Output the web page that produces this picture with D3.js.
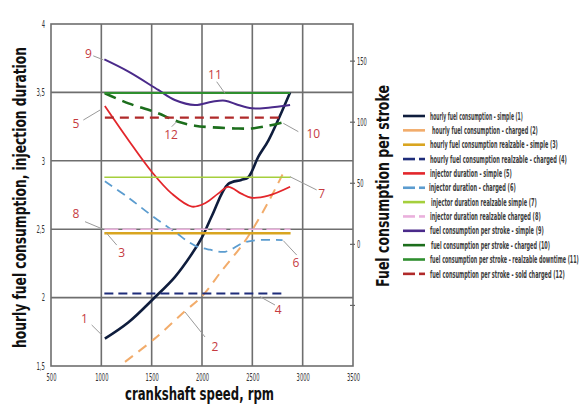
<!DOCTYPE html>
<html><head><meta charset="utf-8">
<script src="https://cdn.jsdelivr.net/npm/d3@7"></script>
<style>body{margin:0;background:#fff}svg{display:block}</style>
</head><body>
<svg id="c" width="582" height="405"></svg>
<script>
// ---- data ----
const xTicks = [500, 1000, 1500, 2000, 2500, 3000, 3500];
const yLeftTicks = [1.5, 2, 2.5, 3, 3.5, 4];
const yRightTicks = [-50, 0, 50, 100, 150];
const yRightTickLabels = ["", "0", "50", "100", "150"];

const rpm1 = [1035, 1270, 1515, 1730, 1900, 2000, 2100, 2260, 2390, 2460, 2560, 2660, 2875];
const hourlySimple = [1.70, 1.82, 1.99, 2.15, 2.32, 2.44, 2.60, 2.83, 2.86, 2.88, 3.03, 3.15, 3.50];
const rpm2 = [1235, 1530, 1830, 2000, 2200, 2395, 2495, 2660, 2800];
const hourlyCharged = [1.53, 1.70, 1.90, 2.01, 2.20, 2.38, 2.49, 2.70, 2.90];
const rpm3 = [1030, 2880];
const hourlyRealSimple = [2.47, 2.47];
const rpm4 = [1030, 2810];
const hourlyRealCharged = [2.03, 2.03];
const rpm5 = [1035, 1270, 1500, 1700, 1900, 2030, 2160, 2260, 2390, 2490, 2660, 2875];
const injSimple = [3.40, 3.15, 2.92, 2.76, 2.665, 2.69, 2.76, 2.81, 2.76, 2.73, 2.745, 2.81];
const rpm6 = [1035, 1270, 1500, 1730, 1930, 2080, 2230, 2410, 2550, 2800];
const injCharged = [2.85, 2.73, 2.60, 2.48, 2.38, 2.35, 2.335, 2.40, 2.42, 2.42];
const rpm7 = [1030, 2880];
const injRealSimple = [2.88, 2.88];
const rpm8 = [1030, 2880];
const injRealCharged = [2.50, 2.50];
const rpm9 = [1030, 1270, 1566, 1730, 1930, 2100, 2230, 2360, 2495, 2660, 2875];
const strokeSimple = [151, 141, 126, 117.8, 113.7, 116.4, 117.2, 113.7, 111, 111.5, 113.7];
const rpm10 = [1035, 1270, 1530, 1765, 1930, 2100, 2330, 2495, 2660, 2790];
const strokeCharged = [123.3, 115, 108, 100, 96.7, 95.4, 94.5, 94.5, 96.7, 99.2];
const rpm11 = [1030, 2875];
const strokeRealDowntime = [123.5, 123.5];
const rpm12 = [1035, 2775];
const strokeSoldCharged = [103.3, 103.3];

const legendNames = [
  "hourly fuel consumption - simple (1)",
  "hourly fuel consumption - charged (2)",
  "hourly fuel consumption realzable - simple (3)",
  "hourly fuel consumption realzable - charged (4)",
  "injector duration - simple (5)",
  "injector duration - charged (6)",
  "injector duration realzable simple (7)",
  "injector duration realzable charged (8)",
  "fuel consumption per stroke - simple (9)",
  "fuel consumption per stroke - charged (10)",
  "fuel consumption per stroke - realzable downtime (11)",
  "fuel consumption per stroke - sold charged (12)"
];

// numbered callouts (left-axis units)
const calloutText = ["1","2","3","4","5","6","7","8","9","10","11","12"];
const calloutPos = [[831,1.849],[2129,1.641],[1202,2.328],[2758,1.909],[748,3.274],[2934,2.255],[3189,2.762],[748,2.611],[871,3.786],[3106,3.196],[2129,3.632],[1692,3.194]];
const leaderFrom = [[904,1.80],[1831,1.895],[1053,2.47],[2576,2.007],[821,3.298],[2808,2.416],[2874,2.884],[838,2.555],[920,3.767],[2808,3.274],[2146,3.578],[1699,3.249]];
const leaderTo = [[1004,1.727],[2030,1.712],[1153,2.384],[2725,1.946],[987,3.371],[2941,2.311],[3139,2.787],[1020,2.499],[1020,3.738],[2957,3.213],[2228,3.493],[1749,3.286]];

// ---- styles ----
const styles = [
  {c:"#0f1d3d", w:2.6, d:null, ax:"L"},
  {c:"#f2ac6b", w:2.0, d:"10,7", ax:"L"},
  {c:"#d9a520", w:2.4, d:null, ax:"L"},
  {c:"#1f2d7a", w:2.2, d:"9,5", ax:"L"},
  {c:"#e3262b", w:1.8, d:null, ax:"L"},
  {c:"#5b9ccf", w:1.8, d:"9,6", ax:"L"},
  {c:"#a5cf3c", w:1.6, d:null, ax:"L"},
  {c:"#eab0dc", w:1.5, d:"14,4", ax:"L"},
  {c:"#4a2a8a", w:2.0, d:null, ax:"R"},
  {c:"#1c6e1c", w:2.6, d:"12,7", ax:"R"},
  {c:"#2f8f2f", w:2.0, d:null, ax:"R"},
  {c:"#b02a2a", w:2.2, d:"9,6", ax:"R"}
];
const legendDashed = [false,false,false,true,false,true,false,true,false,false,false,true];
const legendTextWidth = [93, 106, 128, 137, 82, 87, 106, 111, 114, 119, 149, 135];
const legendTextX = [430, 432, 430, 430, 430, 429, 431, 430, 430, 431, 430, 430];
const seriesX = [rpm1,rpm2,rpm3,rpm4,rpm5,rpm6,rpm7,rpm8,rpm9,rpm10,rpm11,rpm12];
const seriesY = [hourlySimple,hourlyCharged,hourlyRealSimple,hourlyRealCharged,injSimple,injCharged,injRealSimple,injRealCharged,strokeSimple,strokeCharged,strokeRealDowntime,strokeSoldCharged];

const narrow = "'Liberation Sans Narrow','DejaVu Sans Condensed','Roboto Condensed',sans-serif";

const svg = d3.select("#c");
const x = d3.scaleLinear().domain([500, 3500]).range([51, 353]);
const yL = d3.scaleLinear().domain([1.5, 4]).range([366, 24]);
const yR = d3.scaleLinear().domain([-100, 180]).range([366, 24]);

// squeeze a text element horizontally to a given width, anchored at (tx,ty)
function fit(t, tx, ty, width, rot) {
  const n = t.node();
  const w = n.getBBox().width || n.getComputedTextLength();
  const k = width / w;
  t.attr("x", 0).attr("y", 0).attr("transform", `translate(${tx},${ty})${rot ? ` rotate(${rot})` : ""} scale(${k},1)`);
}

// grid
const grid = svg.append("g").attr("stroke", "#6e6e6e").attr("stroke-width", 1.6);
xTicks.slice(1, -1).forEach(v => grid.append("line").attr("x1", x(v)).attr("x2", x(v)).attr("y1", yL(4)).attr("y2", yL(1.5)));
yLeftTicks.slice(1, -1).forEach(v => grid.append("line").attr("x1", x(500)).attr("x2", x(3500)).attr("y1", yL(v)).attr("y2", yL(v)));
svg.append("rect").attr("x", x(500)).attr("y", yL(4)).attr("width", x(3500) - x(500)).attr("height", yL(1.5) - yL(4))
  .attr("fill", "none").attr("stroke", "#6e6e6e").attr("stroke-width", 1.6);

// axes
const xa = svg.append("g").attr("transform", `translate(0,${yL(1.5)})`)
  .call(d3.axisBottom(x).tickValues(xTicks).tickSize(0).tickPadding(8).tickFormat(d => String(d)));
const ya = svg.append("g").attr("transform", `translate(${x(500)},0)`)
  .call(d3.axisLeft(yL).tickValues(yLeftTicks).tickSize(0).tickPadding(6).tickFormat(d => String(d).replace(".", ",")));
const yra = svg.append("g").attr("transform", `translate(${x(3500) - 3},0)`)
  .call(d3.axisRight(yR).tickValues(yRightTicks).tickSize(5).tickPadding(2).tickFormat((d, i) => yRightTickLabels[i]));
[xa, ya, yra].forEach(g => {
  g.select(".domain").remove();
  g.selectAll("text").attr("font-family", narrow).attr("font-size", 10.5).attr("fill", "#333");
  g.selectAll("line").attr("stroke", "#666").attr("stroke-width", 1.2);
});
const perChar = 3.3;
[xa, ya, yra].forEach(g => g.selectAll("text").each(function(){
  const t = d3.select(this);
  const s = t.text();
  if (!s) return;
  const digits = s.replace(",", "").length;
  const width = digits * perChar + (s.includes(",") ? 2 : 0);
  fit(t, +t.attr("x") || 0, +t.attr("y") || 0, width);
}));

// series
seriesX.forEach((xs, i) => {
  const st = styles[i];
  const ys = seriesY[i];
  const yScale = st.ax === "L" ? yL : yR;
  const pts = xs.map((v, j) => [v, ys[j]]);
  const line = d3.line().x(d => x(d[0])).y(d => yScale(d[1])).curve(d3.curveCatmullRom.alpha(0.5));
  svg.append("path").attr("d", line(pts)).attr("fill", "none")
    .attr("stroke", st.c).attr("stroke-width", st.w)
    .attr("stroke-dasharray", st.d).attr("stroke-linecap", "butt");
});

// callouts
const co = svg.append("g");
calloutText.forEach((t, i) => {
  co.append("line").attr("x1", x(leaderFrom[i][0])).attr("y1", yL(leaderFrom[i][1]))
    .attr("x2", x(leaderTo[i][0])).attr("y2", yL(leaderTo[i][1]))
    .attr("stroke", "#9a9a9a").attr("stroke-width", 1);
  co.append("text").attr("x", x(calloutPos[i][0])).attr("y", yL(calloutPos[i][1]))
    .attr("text-anchor", "middle").attr("dy", "0.36em")
    .attr("font-family", "'Open Sans','Liberation Sans',sans-serif").attr("font-size", 12)
    .attr("fill", "#c63b3f").text(t);
});

// axis titles
const title = (tx, ty, rot, txt, len) => {
  const t = svg.append("text")
    .attr("text-anchor", "middle").attr("dy", rot ? "0.35em" : 0)
    .attr("font-family", narrow).attr("font-weight", "bold").attr("font-size", 17)
    .attr("fill", "#111").text(txt);
  fit(t, tx, ty, len, rot);
};
title(20, 197.5, -90, "hourly fuel consumption, injection duration", 301);
title(383, 186, -90, "Fuel consumption per stroke", 202);
title(199.5, 400, 0, "crankshaft speed, rpm", 149);

// legend
const lg = svg.append("g");
const rowY = i => 116 + i * 14.35;
legendNames.forEach((n, i) => {
  const st = styles[i];
  const y0 = rowY(i);
  if (legendDashed[i]) {
    lg.append("line").attr("x1", 403).attr("x2", 415).attr("y1", y0).attr("y2", y0).attr("stroke", st.c).attr("stroke-width", 2.6);
    lg.append("line").attr("x1", 419).attr("x2", 425).attr("y1", y0).attr("y2", y0).attr("stroke", st.c).attr("stroke-width", 2.6);
  } else {
    lg.append("line").attr("x1", 403).attr("x2", 425).attr("y1", y0).attr("y2", y0).attr("stroke", st.c).attr("stroke-width", 2.6);
  }
  const t = lg.append("text").attr("dy", "0.35em")
    .attr("font-family", narrow).attr("font-size", 10.5).attr("font-weight", 600).attr("fill", "#3c3c3c").text(n);
  fit(t, legendTextX[i], y0, legendTextWidth[i]);
});
</script>
</body></html>
